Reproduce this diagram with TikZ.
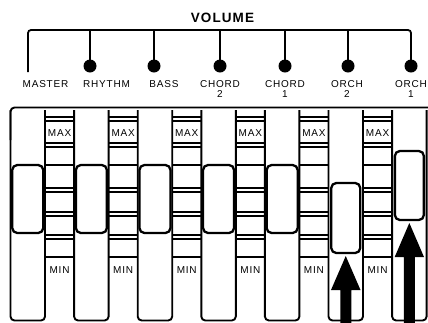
\documentclass[tikz,border=0pt]{standalone}
\usepackage{fontspec}
\setmainfont{Liberation Sans}
\newfontfamily\lblfont[LetterSpace=8]{Liberation Sans}
\newfontfamily\volfont[LetterSpace=8]{Liberation Sans Bold}
\begin{document}
\begin{tikzpicture}[x=1pt,y=-1pt,
  bline/.style={line width=1.8pt},
  dotnode/.style={circle,fill=black,minimum size=13pt,inner sep=0pt},
  lbl/.style={font=\lblfont\fontsize{10}{10}\selectfont,align=center,anchor=north,inner sep=0pt},
  marklbl/.style={font=\lblfont\fontsize{10}{10}\selectfont,inner sep=0pt},
  trk/.style={line width=1.9pt,rounded corners=4pt},
  tick/.style={line width=1.5pt},
  knob/.style={draw,line width=2.3pt,rounded corners=5pt,fill=white,inner sep=0pt},
  arr/.style={fill=black}]
\useasboundingbox (0,0) rectangle (428,322);
% title
\node[font=\volfont\fontsize{13.5}{13.5}\selectfont,inner sep=0pt] (vol) at (222.5,18) {VOLUME};
% bracket
\coordinate (m) at (28,72);
\coordinate (b1) at (90,30);
\coordinate (b2) at (154,30);
\coordinate (b3) at (220,30);
\coordinate (b4) at (285,30);
\coordinate (b5) at (348,30);
\coordinate (b6) at (411,30);
\node[dotnode] (d1) at (90,66) {};
\node[dotnode] (d2) at (154,66) {};
\node[dotnode] (d3) at (220,66) {};
\node[dotnode] (d4) at (285,66) {};
\node[dotnode] (d5) at (348,66) {};
\node[dotnode] (d6) at (411,66) {};
\draw[bline,rounded corners=3pt] (m) -- (28,30) -- (b6) -- (d6.center);
\foreach \i in {1,...,5}{\draw[bline] (b\i) -- (d\i.center);}
% labels
\node[lbl] (l0) at (45.5,80) {MASTER};
\node[lbl] (l1) at (106.5,80) {RHYTHM};
\node[lbl] (l2) at (164,80) {BASS};
\node[lbl] (l3) at (220,80) {CHORD\\2};
\node[lbl] (l4) at (285,80) {CHORD\\1};
\node[lbl] (l5) at (347,80) {ORCH\\2};
\node[lbl] (l6) at (411,80) {ORCH\\1};
% panel top line
\draw[trk] (10.5,140) -- (10.5,107.5) -- (430,107.5);
% tracks
\foreach \i in {0,...,6}{
  \pgfmathsetmacro{\L}{10.5+63.6*\i}
  \pgfmathsetmacro{\R}{\L+34.5}
  \draw[trk] (\L,110) -- (\L,320.5) -- (\R,320.5) -- (\R,110);
}
% strips
\foreach \i in {0,...,5}{
  \pgfmathsetmacro{\A}{45+63.6*\i}
  \pgfmathsetmacro{\B}{\A+29.1}
  \pgfmathsetmacro{\C}{(\A+\B)/2}
  \foreach \yy in {117,121,143,147,165,188,192,212,216,235,239,257}{
    \draw[tick] (\A,\yy) -- (\B,\yy);
  }
  \node[marklbl] (mx\i) at (\C,133.5) {MAX};
  \node[marklbl] (mn\i) at (\C,270) {MIN};
}
% knobs
\foreach \i in {0,...,4}{
  \pgfmathsetmacro{\X}{27.75+63.6*\i}
  \node[knob,minimum width=31pt,minimum height=68pt] (k\i) at (\X,199) {};
}
\node[knob,minimum width=29pt,minimum height=70pt] (k5) at (345.75,218) {};
\node[knob,minimum width=29pt,minimum height=69pt] (k6) at (409.35,185.5) {};
% arrows
\fill[arr] (345.75,256) -- (360.5,290) -- (351.25,290) -- (351.25,323) -- (340.25,323) -- (340.25,290) -- (331,290) -- cycle;
\fill[arr] (409.35,223) -- (424,257) -- (414.85,257) -- (414.85,323) -- (403.85,323) -- (403.85,257) -- (394.7,257) -- cycle;
\end{tikzpicture}
\end{document}
